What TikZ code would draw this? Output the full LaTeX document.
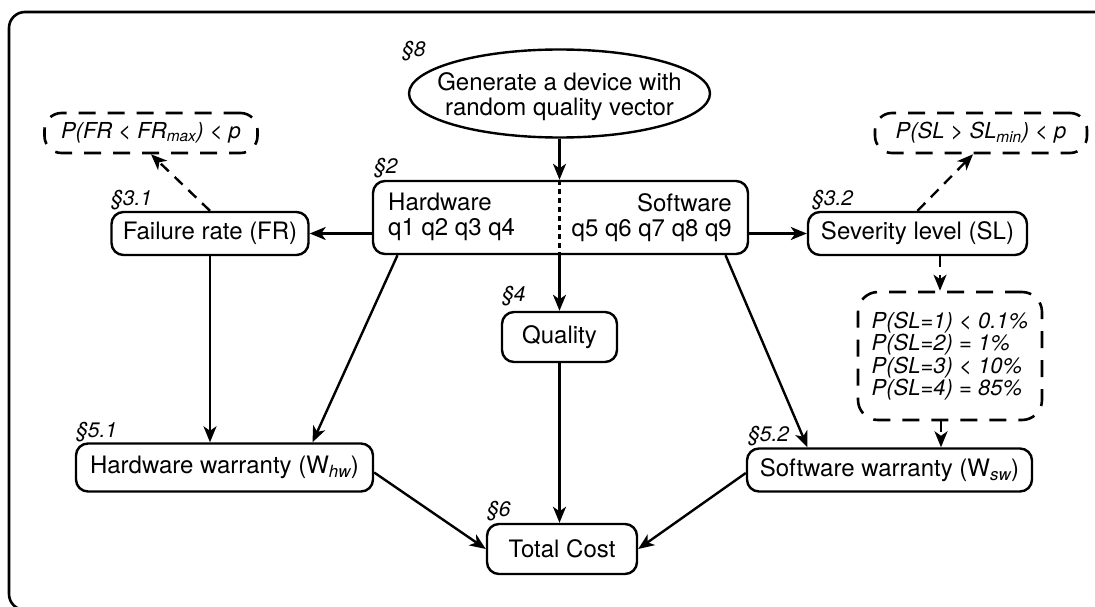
\documentclass[tikz,border=0pt]{standalone}
\usepackage{fontspec}
\setmainfont{TeX Gyre Heros}
\usetikzlibrary{arrows.meta,shapes.geometric}
\begin{document}
\begin{tikzpicture}[x=1pt,y=-1pt,
  box/.style={draw, line width=2.4pt, rounded corners=12pt, inner sep=2pt, font=\fontsize{24}{25}\selectfont},
  dbox/.style={draw, line width=2.6pt, dash pattern=on 17pt off 12pt, rounded corners=17pt, inner sep=2pt, font=\fontsize{22}{22.5}\selectfont\itshape},
  txt/.style={inner sep=0pt, font=\fontsize{24}{25}\selectfont},
  sec/.style={font=\fontsize{21}{21}\selectfont\itshape, inner sep=0pt, anchor=base west},
  arr/.style={line width=2.4pt, -{Stealth[length=16pt,width=13pt,inset=4.5pt]}},
  darr/.style={arr, dash pattern=on 11pt off 8pt},
  dotline/.style={line width=2.4pt, dash pattern=on 5pt off 4pt}]
\useasboundingbox (0,0) rectangle (1095,607);
\draw[line width=2.6pt, rounded corners=16pt] (1110,12) -- (9,12) -- (9,610) -- (1110,610);

% nodes
\node[draw, ellipse, line width=2.4pt, minimum width=301pt, minimum height=88pt, inner sep=0pt,
  label={[txt, align=center, yshift=-3pt]center:Generate a device with\\random quality vector}] (gen) at (559.5,93.5) {};
\node[box, minimum width=375pt, minimum height=73pt] (hs) at (560.5,217.5) {};
\node[txt, align=left, anchor=north west] (hwt) at (388,193) {Hardware\\q1 q2 q3 q4};
\node[txt, align=right, anchor=north east] (swt) at (732,193) {Software\\q5 q6 q7 q8 q9};
\node[box, minimum width=197pt, minimum height=43pt] (fr) at (210,233.5) {Failure rate (FR)};
\node[box, minimum width=219pt, minimum height=43pt] (sl) at (917.5,233.5) {Severity level (SL)};
\node[dbox, minimum width=213pt, minimum height=40pt] (pfr) at (151,133) {P(FR < FR\textsubscript{max}) < p};
\node[dbox, minimum width=212pt, minimum height=40pt] (psl) at (981,133) {P(SL > SL\textsubscript{min}) < p};
\node[dbox, align=left, rounded corners=20pt, minimum width=184pt, minimum height=128pt] (prob) at (950,356)
  {P(SL=1) < 0.1\%\\P(SL=2) = 1\%\\P(SL=3) < 10\%\\P(SL=4) = 85\%};
\node[box, minimum width=115pt, minimum height=50pt] (q) at (559.5,337) {Quality};
\node[box, minimum width=297pt, minimum height=48pt] (hw) at (224.5,467.5) {Hardware warranty (W\textsubscript{\itshape hw})};
\node[box, minimum width=285pt, minimum height=43pt] (sw) at (889.5,470) {Software warranty (W\textsubscript{\itshape sw})};
\node[box, minimum width=150pt, minimum height=50pt] (tc) at (562,549) {Total Cost};

% section labels
\node[sec] (s8) at (402,57) {§8};
\node[sec] (s2) at (374,173) {§2};
\node[sec] (s31) at (111,205) {§3.1};
\node[sec] (s32) at (812,205) {§3.2};
\node[sec] (s4) at (502,301) {§4};
\node[sec] (s51) at (76,437) {§5.1};
\node[sec] (s52) at (748,441) {§5.2};
\node[sec] (s6) at (487,516) {§6};

% connectors
\draw[arr] (gen.south) -- (gen.south |- hs.north);
\draw[dotline] (gen.south |- hs.north) -- (gen.south |- hs.south);
\draw[arr] (gen.south |- hs.south) -- (gen.south |- q.north);
\draw[arr] (hs.west |- fr) -- (fr.east);
\draw[arr] (hs.east |- sl) -- (sl.west);
\draw[darr] (fr.north) -- (pfr.south);
\draw[darr] (sl.north) -- ([xshift=-8pt]psl.south);
\draw[darr] ([xshift=-10pt]prob.north |- sl.south) -- ([xshift=-10pt]prob.north);
\draw[darr] ([xshift=-9pt]prob.south) -- ([xshift=-9pt]prob.south |- sw.north);
\draw[arr] (fr.south) -- (fr.south |- hw.north);
\draw[arr] ([xshift=-163pt]hs.south) -- ([xshift=88pt]hw.north);
\draw[arr] ([xshift=165pt]hs.south) -- ([xshift=-82pt]sw.north);
\draw[arr] (q.south) -- (q.south |- tc.north);
\draw[arr] ([yshift=-5pt]hw.east) -- (tc.west);
\draw[arr] ([yshift=-3pt]sw.west) -- (tc.east);
\end{tikzpicture}
\end{document}
